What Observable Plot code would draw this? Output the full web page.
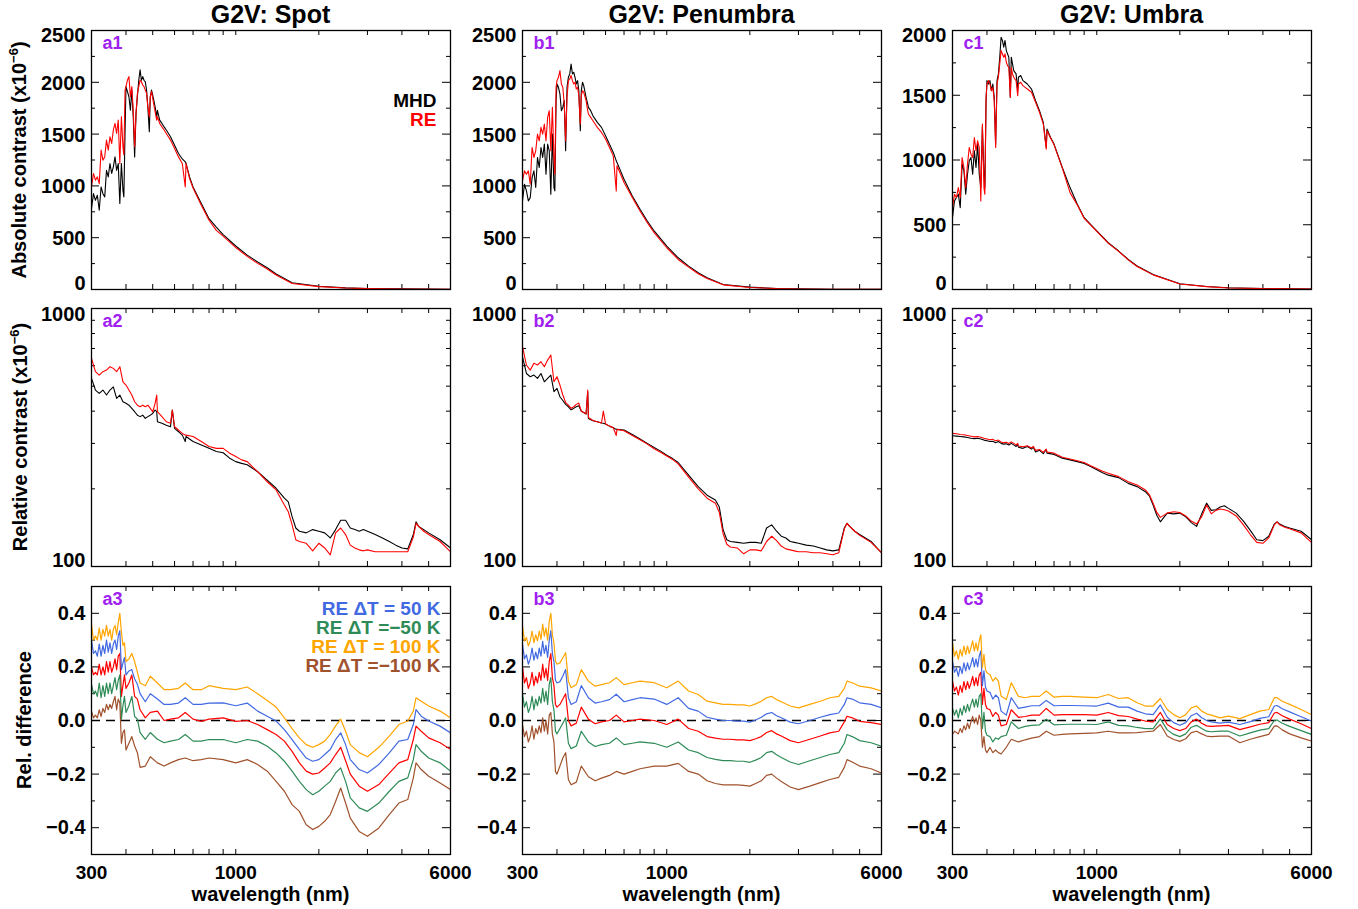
<!DOCTYPE html>
<html><head><meta charset="utf-8">
<script src="https://cdn.jsdelivr.net/npm/d3@7"></script>
<script src="https://cdn.jsdelivr.net/npm/@observablehq/plot@0.6"></script>
<style>
body{margin:0;background:#fff;}
#root{position:relative;width:1358px;height:909px;overflow:hidden;background:#fff;font-family:"Liberation Sans",Arial,Helvetica,sans-serif;font-weight:bold;color:#000;}
.panel{position:absolute;}
.title{position:absolute;font-size:25px;line-height:1;transform:translate(-50%,-50%);white-space:nowrap;}
.ylab{position:absolute;font-size:20px;line-height:1;transform:translate(-50%,-50%) rotate(-90deg);white-space:nowrap;}
.xlab{position:absolute;font-size:20px;line-height:1;transform:translate(-50%,-50%);white-space:nowrap;}
.sup{font-size:13px;position:relative;top:-8px;}
</style></head><body><div id="root"></div>
<script>
// ---------------- DATA ----------------
const wlAbs = [300,305,310,315,320,325,330,335,340,345,350,355,360,365,370,375,380,385,390,393,397,400,405,410,415,420,425,430,435,440,445,450,455,460,465,470,475,480,486,490,495,500,510,517,520,530,540,550,560,580,600,620,640,656,660,680,700,750,800,850,900,1000,1100,1200,1300,1400,1600,2000,2500,3000,4000,6000];
const spotAbsMHD = [780,925,861,910,765,990,925,894,1150,1087,1216,1120,1184,1280,1150,1216,830,1216,958,894,1540,1958,1910,1860,1730,1925,1667,1280,1700,1860,2020,2120,2020,2055,2020,2005,1925,1765,1523,1860,1925,1877,1765,1667,1730,1635,1603,1570,1540,1474,1393,1313,1260,1232,1220,1087,990,829,684,603,530,420,332,265,210,150,65,32,16,10,6,3];
const spotAbsRE = [990,1120,1055,1087,1022,1345,1248,1280,1442,1345,1474,1410,1540,1603,1506,1635,1216,1667,1377,1300,1925,1958,2022,2055,1860,1958,1730,1377,1700,1893,1958,2022,2005,1974,1958,1925,1893,1765,1667,1860,1910,1845,1717,1635,1667,1603,1570,1540,1506,1442,1360,1280,1216,990,1216,1070,980,813,668,571,515,405,320,252,198,140,58,28,14,8,5,2];
const penAbsMHD = [855,1016,952,855,887,1080,1145,984,1274,1177,1371,1274,1403,1113,1403,1339,919,1500,984,952,1823,1984,1952,1887,1726,1758,1823,1339,1952,2048,2081,2177,2081,2097,2048,1984,2016,1919,1532,1919,2000,1968,1855,1790,1758,1726,1677,1645,1613,1565,1484,1403,1323,1242,1226,1145,1065,903,774,661,565,419,306,226,161,113,48,23,10,6,3,2];
const penAbsRE = [1048,1145,1113,1145,1016,1371,1274,1339,1500,1435,1565,1500,1597,1435,1661,1726,1339,1758,1274,1113,1952,2016,2048,2113,1984,1952,1790,1435,1855,2016,2032,2065,2016,1984,2000,1935,1952,1871,1597,1871,1919,1903,1823,1726,1694,1661,1629,1597,1565,1516,1452,1371,1290,952,1194,1113,1032,887,758,645,548,403,290,216,152,106,45,20,9,5,3,1];
const umbAbsMHD = [555,684,710,735,632,968,916,735,890,994,1019,890,1071,942,1123,890,787,1252,890,787,1458,1613,1587,1613,1535,1587,1484,1123,1613,1665,1794,1948,1923,1871,1923,1845,1819,1794,1484,1794,1742,1690,1665,1535,1639,1652,1613,1600,1587,1548,1458,1381,1290,1097,1239,1174,1123,942,787,658,555,452,361,297,232,181,116,44,23,13,8,3];
const umbAbsRE = [632,735,710,787,710,1019,942,787,968,1097,1045,1019,1174,1071,1148,1097,684,1277,787,735,1484,1587,1613,1587,1535,1561,1458,1097,1587,1639,1742,1845,1819,1794,1819,1755,1729,1716,1484,1716,1665,1639,1613,1497,1587,1600,1574,1561,1548,1523,1445,1368,1277,1084,1226,1169,1117,937,748,653,550,448,358,294,229,178,113,43,22,12,7,3];

const wlRel = [300,310,320,330,340,350,360,370,380,390,400,410,420,430,440,450,460,470,480,490,500,510,517,520,540,560,580,589,600,620,640,656,660,700,750,800,850,900,950,1000,1050,1100,1200,1300,1400,1500,1550,1600,1650,1700,1800,1900,2000,2100,2200,2300,2400,2500,2600,2700,2800,2900,3000,3200,3400,3600,3800,4000,4200,4400,4500,4600,4800,5000,5500,6000];
const spotRelMHD = [536,483,469,483,462,483,497,448,462,435,429,422,410,398,386,381,386,375,381,386,392,404,398,364,359,353,348,404,343,333,323,305,319,305,296,287,279,276,263,255,251,248,233,216,201,184,178,156,141,137,135,139,137,135,129,139,151,151,141,139,137,139,137,133,129,125,121,118,117,133,149,143,139,135,127,118];
const spotRelRE = [640,569,552,569,577,595,586,569,595,520,505,483,462,435,422,416,422,416,422,410,398,429,462,398,381,364,359,404,348,338,328,323,323,319,305,292,287,287,275,267,259,255,233,213,198,173,163,145,127,125,123,115,123,118,111,135,141,133,121,118,116,115,116,114,114,114,114,114,114,130,147,143,137,133,125,114];
const penRelMHD = [650,560,544,552,536,560,520,536,552,476,490,455,440,425,416,405,410,416,420,400,395,390,476,375,367,364,360,359,357,350,345,340,340,338,325,312,300,289,280,270,262,253,226,204,189,181,170,139,127,125,124,123,124,124,123,141,145,137,131,129,125,124,123,121,120,118,116,115,116,141,147,143,137,133,125,113];
const penRelRE = [711,604,577,613,604,622,595,631,660,520,544,505,462,432,422,410,416,425,430,400,395,390,483,378,368,364,360,400,357,350,345,322,340,336,322,310,298,286,277,268,260,250,222,200,184,176,162,134,122,119,118,112,116,116,115,125,131,126,120,117,116,115,114,114,113,113,112,111,113,140,147,143,137,132,124,113];
const umbRelMHD = [321,320,319,318,316,314,313,314,312,309,307,305,306,302,305,300,298,299,296,300,296,292,297,290,287,292,285,290,278,282,274,284,275,272,263,259,255,251,244,237,231,226,221,210,204,195,188,173,158,149,161,160,161,156,148,143,160,176,165,166,170,172,168,161,150,138,127,126,131,146,149,146,143,141,137,127];
const umbRelRE = [328,327,325,324,322,320,318,319,317,314,312,310,311,307,309,304,302,303,300,304,300,296,300,293,291,294,288,292,282,284,277,285,278,275,265,261,257,253,246,240,234,230,223,213,207,198,190,176,162,155,161,163,162,157,150,146,156,173,160,165,167,166,164,157,145,133,124,123,129,145,149,145,142,140,135,124];

const wlDiff = [300,305,310,315,320,325,330,335,340,345,350,355,360,365,370,375,380,385,390,395,400,410,420,430,440,450,470,490,520,550,580,620,656,700,750,800,900,1000,1100,1200,1300,1400,1500,1600,1700,1800,1900,2000,2100,2200,2300,2400,2500,2600,2800,3000,3300,3600,3900,4200,4400,4500,4700,5000,5500,6000];
const spotDiffRE = [0.20,0.17,0.18,0.17,0.21,0.17,0.20,0.17,0.22,0.18,0.22,0.18,0.20,0.23,0.19,0.24,0.25,0.09,0.13,0.17,0.12,0.14,0.17,0.09,0.08,0.04,0.01,0.03,0.035,0.0,0.005,0.01,0.03,0.005,-0.003,0.005,0.01,-0.003,0.0,-0.015,-0.034,-0.052,-0.077,-0.115,-0.158,-0.189,-0.20,-0.196,-0.177,-0.158,-0.127,-0.10,-0.15,-0.20,-0.245,-0.264,-0.239,-0.196,-0.158,-0.146,-0.071,-0.021,-0.04,-0.065,-0.083,-0.108];
const spotDiffP100 = [0.36,0.30,0.315,0.30,0.345,0.30,0.34,0.315,0.355,0.315,0.34,0.30,0.34,0.355,0.32,0.365,0.40,0.33,0.28,0.29,0.22,0.23,0.25,0.22,0.18,0.14,0.13,0.165,0.14,0.115,0.115,0.12,0.14,0.115,0.115,0.13,0.12,0.115,0.125,0.10,0.075,0.05,0.01,-0.03,-0.065,-0.09,-0.10,-0.09,-0.077,-0.052,-0.02,0.005,-0.04,-0.09,-0.12,-0.135,-0.10,-0.058,-0.015,-0.002,0.035,0.085,0.072,0.054,0.035,0.01];
const spotDiffP50 = [0.30,0.25,0.26,0.24,0.285,0.24,0.28,0.25,0.30,0.255,0.29,0.25,0.285,0.30,0.265,0.315,0.335,0.19,0.215,0.235,0.17,0.185,0.19,0.155,0.135,0.10,0.07,0.10,0.08,0.06,0.06,0.065,0.085,0.06,0.06,0.065,0.066,0.055,0.065,0.035,0.016,-0.002,-0.034,-0.071,-0.108,-0.14,-0.152,-0.146,-0.127,-0.108,-0.071,-0.046,-0.09,-0.146,-0.183,-0.196,-0.164,-0.121,-0.077,-0.071,-0.015,0.041,0.016,-0.002,-0.021,-0.046];
const spotDiffM50 = [0.135,0.10,0.11,0.09,0.14,0.085,0.13,0.09,0.14,0.10,0.14,0.10,0.13,0.16,0.115,0.15,0.17,0.005,0.055,0.09,0.03,0.055,0.09,0.015,0.005,-0.045,-0.07,-0.045,-0.07,-0.083,-0.077,-0.071,-0.052,-0.077,-0.077,-0.071,-0.071,-0.083,-0.071,-0.077,-0.096,-0.121,-0.152,-0.189,-0.227,-0.258,-0.277,-0.264,-0.245,-0.227,-0.196,-0.177,-0.227,-0.289,-0.326,-0.339,-0.308,-0.264,-0.227,-0.214,-0.146,-0.09,-0.115,-0.14,-0.158,-0.189];
const spotDiffM100 = [0.035,0.01,0.02,0.01,0.04,0.015,0.045,0.03,0.06,0.04,0.06,0.045,0.07,0.09,0.04,0.08,0.065,-0.085,-0.045,-0.035,-0.11,-0.085,-0.06,-0.095,-0.12,-0.175,-0.17,-0.135,-0.158,-0.17,-0.158,-0.146,-0.14,-0.15,-0.146,-0.14,-0.146,-0.158,-0.146,-0.164,-0.189,-0.227,-0.264,-0.314,-0.339,-0.389,-0.407,-0.395,-0.376,-0.351,-0.302,-0.252,-0.308,-0.364,-0.414,-0.432,-0.401,-0.351,-0.308,-0.295,-0.214,-0.158,-0.183,-0.208,-0.233,-0.258];
const penDiffRE = [0.20,0.14,0.16,0.12,0.14,0.18,0.13,0.165,0.14,0.18,0.15,0.21,0.16,0.195,0.15,0.22,0.25,0.16,0.13,0.06,0.05,0.06,0.08,0.10,0.0,-0.02,-0.01,0.05,0.005,-0.012,-0.005,0.0,0.02,-0.005,0.0,0.005,0.0,-0.015,0.005,-0.03,-0.04,-0.06,-0.066,-0.07,-0.07,-0.072,-0.072,-0.075,-0.068,-0.06,-0.045,-0.038,-0.05,-0.058,-0.075,-0.083,-0.07,-0.058,-0.046,-0.04,-0.005,0.016,0.01,-0.003,-0.008,-0.015];
const penDiffP100 = [0.353,0.297,0.31,0.278,0.297,0.334,0.29,0.32,0.297,0.334,0.303,0.36,0.315,0.346,0.30,0.37,0.40,0.32,0.29,0.222,0.21,0.215,0.234,0.253,0.147,0.122,0.134,0.19,0.147,0.128,0.134,0.141,0.16,0.134,0.141,0.147,0.141,0.122,0.147,0.11,0.097,0.072,0.066,0.06,0.06,0.058,0.058,0.054,0.062,0.072,0.085,0.09,0.078,0.07,0.054,0.047,0.06,0.072,0.085,0.09,0.12,0.147,0.141,0.128,0.122,0.11];
const penDiffP50 = [0.285,0.23,0.245,0.21,0.23,0.27,0.225,0.255,0.23,0.27,0.24,0.295,0.25,0.28,0.235,0.30,0.335,0.25,0.22,0.15,0.14,0.145,0.165,0.19,0.085,0.06,0.07,0.13,0.085,0.065,0.07,0.078,0.098,0.07,0.078,0.085,0.08,0.06,0.085,0.045,0.035,0.012,0.005,0.0,0.0,-0.002,-0.002,-0.006,0.002,0.012,0.025,0.03,0.018,0.01,-0.006,-0.012,0.0,0.012,0.022,0.028,0.06,0.085,0.08,0.066,0.06,0.047];
const penDiffM50 = [0.10,0.05,0.07,0.03,0.05,0.09,0.04,0.08,0.055,0.09,0.065,0.12,0.07,0.11,0.06,0.135,0.16,0.07,0.04,-0.04,-0.05,-0.03,-0.01,0.01,-0.085,-0.105,-0.095,-0.04,-0.08,-0.097,-0.09,-0.085,-0.065,-0.09,-0.085,-0.08,-0.085,-0.10,-0.08,-0.11,-0.12,-0.138,-0.145,-0.15,-0.15,-0.152,-0.152,-0.156,-0.148,-0.138,-0.12,-0.115,-0.128,-0.138,-0.155,-0.164,-0.15,-0.138,-0.127,-0.12,-0.085,-0.052,-0.06,-0.075,-0.083,-0.096];
const penDiffM100 = [-0.015,-0.06,-0.04,-0.08,-0.06,-0.02,-0.07,-0.03,-0.05,-0.02,-0.045,0.01,-0.04,0.0,-0.05,0.02,0.03,-0.05,-0.08,-0.19,-0.2,-0.17,-0.14,-0.12,-0.22,-0.24,-0.23,-0.17,-0.21,-0.225,-0.215,-0.205,-0.19,-0.2,-0.19,-0.18,-0.17,-0.17,-0.16,-0.19,-0.2,-0.225,-0.235,-0.24,-0.24,-0.24,-0.242,-0.245,-0.235,-0.225,-0.205,-0.2,-0.215,-0.228,-0.248,-0.258,-0.245,-0.232,-0.22,-0.212,-0.175,-0.146,-0.155,-0.17,-0.18,-0.196];
const umbDiffRE = [0.147,0.11,0.125,0.095,0.13,0.105,0.145,0.115,0.145,0.12,0.14,0.165,0.13,0.16,0.13,0.17,0.18,0.06,0.12,0.06,0.045,0.04,0.015,0.03,0.02,-0.02,-0.015,0.04,0.012,0.015,0.02,0.02,0.045,0.02,0.022,0.022,0.022,0.02,0.03,0.018,0.015,0.005,-0.002,-0.005,0.03,-0.015,-0.03,-0.038,-0.03,-0.005,0.005,-0.01,-0.02,-0.022,-0.02,-0.018,-0.034,-0.024,-0.014,-0.008,0.028,0.03,0.018,0.005,-0.012,-0.03];
const umbDiffP100 = [0.29,0.24,0.26,0.228,0.265,0.24,0.278,0.247,0.278,0.25,0.272,0.297,0.26,0.29,0.26,0.297,0.32,0.197,0.247,0.19,0.178,0.172,0.147,0.16,0.147,0.091,0.078,0.141,0.09,0.085,0.09,0.09,0.11,0.087,0.09,0.09,0.087,0.085,0.097,0.082,0.085,0.066,0.054,0.054,0.082,0.041,0.022,0.01,0.022,0.047,0.054,0.035,0.025,0.02,0.01,0.016,0.007,0.022,0.035,0.041,0.085,0.085,0.072,0.06,0.041,0.022];
const umbDiffP50 = [0.222,0.18,0.195,0.165,0.2,0.175,0.215,0.185,0.215,0.19,0.21,0.235,0.2,0.23,0.2,0.24,0.26,0.13,0.185,0.125,0.11,0.105,0.08,0.095,0.085,0.035,0.02,0.085,0.045,0.05,0.055,0.055,0.075,0.055,0.056,0.056,0.055,0.054,0.065,0.05,0.05,0.035,0.025,0.022,0.058,0.012,-0.008,-0.018,-0.008,0.018,0.027,0.01,0.0,-0.005,-0.01,-0.006,-0.015,-0.004,0.008,0.014,0.054,0.056,0.044,0.032,0.014,-0.002];
const umbDiffM50 = [0.047,0.02,0.04,0.01,0.045,0.02,0.055,0.03,0.06,0.035,0.06,0.08,0.05,0.08,0.05,0.09,0.1,-0.03,0.03,-0.04,-0.055,-0.06,-0.08,-0.065,-0.07,-0.06,-0.055,-0.005,-0.03,-0.022,-0.018,-0.016,0.005,-0.016,-0.015,-0.014,-0.014,-0.015,-0.005,-0.018,-0.02,-0.026,-0.03,-0.03,0.006,-0.035,-0.052,-0.06,-0.05,-0.025,-0.018,-0.03,-0.04,-0.042,-0.04,-0.04,-0.058,-0.046,-0.036,-0.03,0.0,0.002,-0.01,-0.022,-0.038,-0.052];
const umbDiffM100 = [-0.052,-0.04,-0.045,-0.05,-0.03,-0.045,-0.02,-0.035,-0.01,-0.03,-0.005,0.015,-0.01,0.01,-0.015,0.02,0.0,-0.1,-0.06,-0.11,-0.12,-0.1,-0.12,-0.11,-0.12,-0.125,-0.1,-0.07,-0.08,-0.072,-0.066,-0.06,-0.04,-0.055,-0.052,-0.05,-0.048,-0.046,-0.04,-0.046,-0.046,-0.045,-0.042,-0.04,-0.015,-0.058,-0.071,-0.078,-0.068,-0.045,-0.04,-0.05,-0.058,-0.06,-0.058,-0.058,-0.083,-0.07,-0.06,-0.052,-0.021,-0.02,-0.035,-0.05,-0.065,-0.077];

// ticks and labels
const xMinorTicks = [400,500,600,700,800,900,1000,2000,3000,4000,5000];
const xTickLabels = [300,1000,6000];
const absMajorTicks = [0,500,1000,1500,2000,2500];
const absMinorTicks = [250,750,1250,1750,2250];
const relMinorTicks = [200,300,400,500,600,700,800,900];
const relTickLabels = [100,1000];
const diffMajorTicks = [-0.4,-0.2,0,0.2,0.4];
const diffMinorTicks = [-0.3,-0.1,0.1,0.3];
const columnTitles = ["G2V: Spot","G2V: Penumbra","G2V: Umbra"];
const diffLegend = ["RE \u0394T = 50 K","RE \u0394T =\u221250 K","RE \u0394T = 100 K","RE \u0394T =\u2212100 K"];

// ---------------- STYLE / LAYOUT ----------------
const FONT = '"Liberation Sans", Arial, Helvetica, sans-serif';
const C = {mhd:"#000000", re:"#ff0000", p50:"#4169e1", m50:"#2e8b57", p100:"#ffa500", m100:"#a0522d", label:"#a020f0"};
const colLeft = [91, 522, 952], frameW = 359;
const rowTop = [30, 308, 586], rowH = [259, 258, 268];
const mL = 80, mR = 30, mT = 12, mB = 44;
const root = document.getElementById("root");

function fmtDiff(v){ if (Math.abs(v) < 1e-9) return "0.0"; return (v < 0 ? "\u2212" : "") + Math.abs(v).toFixed(1); }

function makePanel(o) {
  const fh = rowH[o.row], fw = frameW;
  const inner = arr => arr.filter(v => v > o.yDomain[0] + 1e-9 && v < o.yDomain[1] - 1e-9);
  const tk = {stroke: "#000", strokeWidth: 1};
  const marks = [];
  const maj = inner(o.yMajor), mn = inner(o.yMinor);
  marks.push(Plot.ruleY(maj, {...tk, insetRight: fw - 8}));
  marks.push(Plot.ruleY(maj, {...tk, insetLeft: fw - 8}));
  marks.push(Plot.ruleY(mn, {...tk, insetRight: fw - 4}));
  marks.push(Plot.ruleY(mn, {...tk, insetLeft: fw - 4}));
  marks.push(Plot.ruleX(xMinorTicks, {...tk, insetTop: fh - 5}));
  marks.push(Plot.ruleX(xMinorTicks, {...tk, insetBottom: fh - 5}));
  if (o.zeroLine) marks.push(Plot.ruleY([0], {stroke: "#000", strokeWidth: 1.3, strokeDasharray: "9,6"}));
  for (const s of o.series) {
    marks.push(Plot.line(s.values, {x: o.wl, y: d => d, stroke: s.color, strokeWidth: s.width || 1, clip: true}));
  }
  marks.push(Plot.frame({stroke: "#000", strokeWidth: 1.3}));
  const txt = {fontFamily: FONT, fontWeight: "bold", fill: "#000"};
  for (const L of o.yLabels) {
    marks.push(Plot.text([L], {...txt, y: d => d.v, text: d => d.t, frameAnchor: "left", textAnchor: "end", lineAnchor: "middle", dx: -6, dy: L.dy || 0, fontSize: 20}));
  }
  if (o.xLabels) {
    marks.push(Plot.text(xTickLabels, {...txt, x: d => d, text: d => String(d), frameAnchor: "bottom", lineAnchor: "middle", dy: 18, fontSize: 19}));
  }
  marks.push(Plot.text([o.label], {...txt, fill: C.label, text: d => d, frameAnchor: "top-left", textAnchor: "start", lineAnchor: "middle", dx: 11, dy: 13, fontSize: 18}));
  for (const L of (o.legend || [])) {
    marks.push(Plot.text([L.t], {...txt, fill: L.c, text: d => d, frameAnchor: "top-right", textAnchor: "end", lineAnchor: "middle", dx: L.dx, dy: L.dy, fontSize: 19}));
  }
  const W = fw + mL + mR, H = fh + mT + mB;
  const svg = Plot.plot({
    width: W, height: H,
    marginLeft: mL, marginRight: mR, marginTop: mT, marginBottom: mB,
    style: {background: "transparent", overflow: "visible", fontFamily: FONT},
    x: {type: "log", domain: [300, 6000], axis: null},
    y: {type: o.yType, domain: o.yDomain, axis: null},
    marks
  });
  const div = document.createElement("div");
  div.className = "panel";
  div.style.left = (colLeft[o.col] - mL) + "px";
  div.style.top = (rowTop[o.row] - mT) + "px";
  div.style.width = W + "px";
  div.append(svg);
  root.append(div);
}

const absLabels = (max) => absMajorTicks.filter(v => v <= max).map(v => ({v, t: String(v), dy: v === 0 ? -6 : (v === max ? 5 : 1)}));
const relLabels = relTickLabels.map(v => ({v, t: String(v), dy: v === 100 ? -6 : 6}));
const diffLabels = diffMajorTicks.map(v => ({v, t: fmtDiff(v), dy: 0}));

const absData = [[spotAbsMHD, spotAbsRE, 2500], [penAbsMHD, penAbsRE, 2500], [umbAbsMHD, umbAbsRE, 2000]];
const relData = [[spotRelMHD, spotRelRE], [penRelMHD, penRelRE], [umbRelMHD, umbRelRE]];
const diffData = [
  [spotDiffRE, spotDiffP50, spotDiffM50, spotDiffP100, spotDiffM100],
  [penDiffRE, penDiffP50, penDiffM50, penDiffP100, penDiffM100],
  [umbDiffRE, umbDiffP50, umbDiffM50, umbDiffP100, umbDiffM100]
];
const letters = ["a","b","c"];

for (let c = 0; c < 3; c++) {
  const [mhd, re, max] = absData[c];
  makePanel({
    col: c, row: 0, wl: wlAbs, yType: "linear", yDomain: [0, max],
    yMajor: absMajorTicks, yMinor: absMinorTicks, yLabels: absLabels(max), label: letters[c] + "1",
    series: [{values: mhd, color: C.mhd, width: 1.1}, {values: re, color: C.re, width: 1.1}],
    legend: c === 0 ? [{t: "MHD", c: C.mhd, dx: -14, dy: 70}, {t: "RE", c: C.re, dx: -14, dy: 89}] : []
  });
  const [rm, rr] = relData[c];
  makePanel({
    col: c, row: 1, wl: wlRel, yType: "log", yDomain: [100, 1000],
    yMajor: [], yMinor: relMinorTicks, yLabels: relLabels, label: letters[c] + "2",
    series: [{values: rm, color: C.mhd, width: 1.1}, {values: rr, color: C.re, width: 1.1}]
  });
  const [d0, d1, d2, d3, d4] = diffData[c];
  makePanel({
    col: c, row: 2, wl: wlDiff, yType: "linear", yDomain: [-0.5, 0.5],
    yMajor: diffMajorTicks, yMinor: diffMinorTicks, yLabels: diffLabels, label: letters[c] + "3",
    xLabels: true, zeroLine: true,
    series: [
      {values: d0, color: C.re, width: 1.2},
      {values: d1, color: C.p50, width: 1.2},
      {values: d2, color: C.m50, width: 1.2},
      {values: d3, color: C.p100, width: 1.2},
      {values: d4, color: C.m100, width: 1.2}
    ],
    legend: c === 0 ? diffLegend.map((t, i) => ({t, c: [C.p50, C.m50, C.p100, C.m100][i], dx: -10, dy: 22 + 19 * i})) : []
  });
}

const colCenters = colLeft.map(l => l + frameW / 2);
columnTitles.forEach((t, i) => {
  const d = document.createElement("div"); d.className = "title"; d.textContent = t;
  d.style.left = colCenters[i] + "px"; d.style.top = "14px"; root.append(d);
  const w = document.createElement("div"); w.className = "xlab"; w.textContent = "wavelength (nm)";
  w.style.left = colCenters[i] + "px"; w.style.top = "894px"; root.append(w);
});
function ylab(html, x, y){ const d = document.createElement("div"); d.className = "ylab"; d.innerHTML = html; d.style.left = x + "px"; d.style.top = y + "px"; root.append(d); }
ylab('Absolute contrast (x10<span class="sup">\u22126</span>)', 19, 160);
ylab('Relative contrast (x10<span class="sup">\u22126</span>)', 20, 437);
ylab('Rel. difference', 24, 720);
</script></body></html>
